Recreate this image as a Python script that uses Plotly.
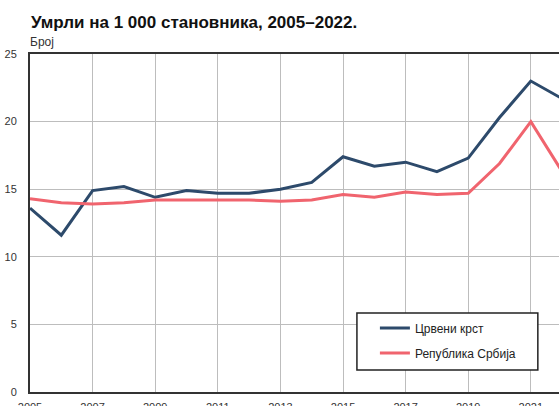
import plotly.graph_objects as go

# Умрли на 1 000 становника
years = list(range(2005, 2023))
crveni_krst = [13.6, 11.6, 14.9, 15.2, 14.4, 14.9, 14.7, 14.7, 15.0, 15.5,
               17.4, 16.7, 17.0, 16.3, 17.3, 20.3, 23.0, 21.7]
srbija = [14.3, 14.0, 13.9, 14.0, 14.2, 14.2, 14.2, 14.2, 14.1, 14.2,
          14.6, 14.4, 14.8, 14.6, 14.7, 16.9, 20.0, 16.3]

y_ticks = [0, 5, 10, 15, 20, 25]

fig = go.Figure()

fig.add_trace(go.Scatter(
    x=years, y=crveni_krst, mode='lines', name='Црвени крст',
    line=dict(color='#2d4a6b', width=3), legendgroup='a'
))
fig.add_trace(go.Scatter(
    x=years, y=srbija, mode='lines', name='Република Србија',
    line=dict(color='#f0646e', width=3), legendgroup='b'
))

# title and unit as annotations
fig.add_annotation(text='<b>Умрли на 1 000 становника, 2005–2022.</b>',
                   xref='paper', yref='paper', x=0, y=1, xanchor='left', yanchor='bottom',
                   xshift=-1, yshift=20, showarrow=False, font=dict(size=17, color='#111'))
fig.add_annotation(text='Број', xref='paper', yref='paper', x=0, y=1,
                   xanchor='left', yanchor='bottom', xshift=-2, yshift=3, showarrow=False,
                   font=dict(size=12, color='#333'))

# legend frame (wider than the auto legend box)
fig.add_shape(type='rect', xref='paper', yref='paper', x0=0.618, x1=0.96, y0=0.065, y1=0.234,
              line=dict(color='#222', width=1.5), fillcolor='white', layer='above')

fig.update_layout(
    width=559, height=406,
    margin=dict(l=30, r=0, t=54, b=14),
    paper_bgcolor='white', plot_bgcolor='white',
    font=dict(family='Liberation Sans, Arial, sans-serif', size=11, color='#333'),
    showlegend=True,
    legend=dict(x=0.652, y=0.232, xanchor='left', yanchor='top',
                borderwidth=0, bgcolor='rgba(0,0,0,0)',
                font=dict(size=12, color='#222'), tracegroupgap=6),
)

fig.update_xaxes(range=[2005, 2021.9], tickmode='array', tickvals=years[::2],
                 showgrid=True, gridcolor='#bdbdbd', gridwidth=1,
                 showline=True, linecolor='#333', linewidth=2, mirror=True,
                 ticks='', zeroline=False, ticklabelstandoff=4, automargin=False)
fig.update_yaxes(range=[0, 25], tickvals=y_ticks,
                 showgrid=True, gridcolor='#bdbdbd', gridwidth=1,
                 showline=True, linecolor='#333', linewidth=2,
                 ticks='', zeroline=False, ticklabelstandoff=9, automargin=False)

# drop the default 8px body margin so the figure sits at the window corner
fig.write_html("out.html", config={'displayModeBar': False},
               post_script="document.body.style.margin='0';")
